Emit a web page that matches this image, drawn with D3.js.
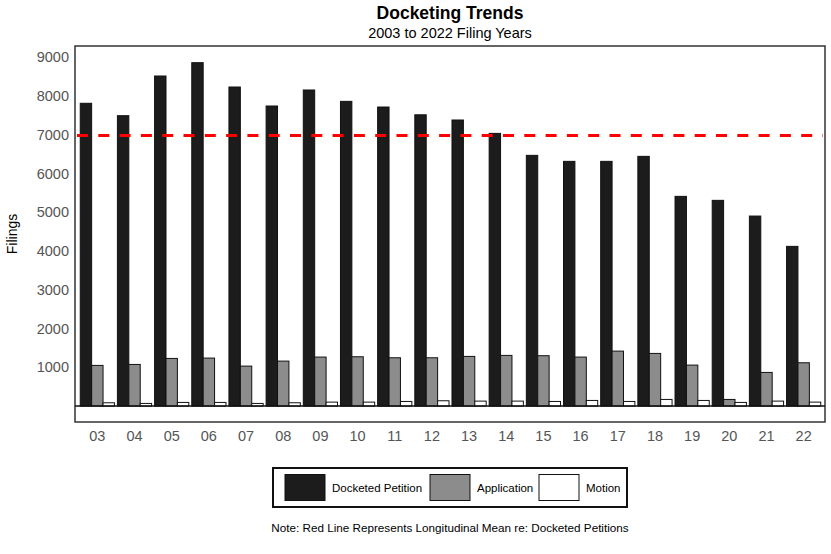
<!DOCTYPE html>
<html>
<head>
<meta charset="utf-8">
<script src="https://cdn.jsdelivr.net/npm/d3@7"></script>
<style>
  body { margin: 0; background: #fff; }
  svg { font-family: "Liberation Sans", Arial, sans-serif; }
</style>
</head>
<body>
<svg id="chart" width="831" height="554"></svg>
<script>
// filing years (2-digit labels)
const years = ["03","04","05","06","07","08","09","10","11","12",
               "13","14","15","16","17","18","19","20","21","22"];

const docketed = [7812, 7492, 8516, 8860, 8232, 7742, 8155, 7862, 7716, 7515,
                  7381, 7036, 6469, 6314, 6314, 6443, 5411, 5308, 4903, 4121];
const applications = [1050, 1075, 1230, 1239, 1032, 1161, 1265, 1273, 1247, 1247,
                      1282, 1308, 1300, 1265, 1419, 1359, 1058, 172, 869, 1118];
const motions = [86, 69, 95, 95, 69, 86, 103, 103, 120, 138,
                 129, 129, 120, 146, 120, 172, 146, 95, 129, 103];

const seriesNames = ["Docketed Petition", "Application", "Motion"];
const yTicks = [1000, 2000, 3000, 4000, 5000, 6000, 7000, 8000, 9000];

const colors = ["#1c1c1c", "#8c8c8c", "#ffffff"];

const svg = d3.select("#chart");
const plotLeft = 75, plotRight = 825, plotTop = 46, plotBottom = 422;

const x = d3.scaleBand()
    .domain(years)
    .range([plotLeft + 4.5, plotRight - 3.5])
    .paddingInner(0.08)
    .paddingOuter(0.02);

const xInner = d3.scaleBand()
    .domain(seriesNames)
    .range([0, x.bandwidth()]);

const y = d3.scaleLinear()
    .domain([-410, 9290])
    .range([plotBottom, plotTop]);

const rows = years.map((yr, i) => ({
    year: yr,
    values: [docketed[i], applications[i], motions[i]]
}));

// bars
const groups = svg.append("g")
  .selectAll("g")
  .data(rows)
  .join("g")
    .attr("transform", d => `translate(${x(d.year)},0)`);

groups.selectAll("rect")
  .data(d => d.values.map((v, k) => ({ name: seriesNames[k], value: v, k })))
  .join("rect")
    .attr("x", d => xInner(d.name))
    .attr("width", xInner.bandwidth())
    .attr("y", d => y(d.value))
    .attr("height", d => y(0) - y(d.value))
    .attr("fill", d => colors[d.k])
    .attr("stroke", "#111")
    .attr("stroke-width", 1);

// mean line for docketed petitions
const mean = d3.mean(docketed);
svg.append("line")
    .attr("x1", plotLeft + 2).attr("x2", plotRight - 2)
    .attr("y1", y(mean)).attr("y2", y(mean))
    .attr("stroke", "#ff0000")
    .attr("stroke-width", 3)
    .attr("stroke-dasharray", "11,10.3");

// frame + zero line
svg.append("rect")
    .attr("x", plotLeft).attr("y", plotTop)
    .attr("width", plotRight - plotLeft).attr("height", plotBottom - plotTop)
    .attr("fill", "none")
    .attr("stroke", "#333")
    .attr("stroke-width", 1.5);

svg.append("line")
    .attr("x1", plotLeft).attr("x2", plotRight)
    .attr("y1", y(0)).attr("y2", y(0))
    .attr("stroke", "#111")
    .attr("stroke-width", 1.5);

// axes
const yAxis = svg.append("g")
    .attr("transform", `translate(${plotLeft},0)`)
    .call(d3.axisLeft(y).tickValues(yTicks).tickFormat(d3.format("d"))
        .tickSize(0).tickPadding(6));
yAxis.select(".domain").remove();
yAxis.selectAll("text")
    .attr("font-size", 14.5)
    .attr("fill", "#555")
    .attr("font-family", "Liberation Sans, Arial, sans-serif");

const xAxis = svg.append("g")
    .attr("transform", `translate(0,${plotBottom})`)
    .call(d3.axisBottom(x).tickSize(0).tickPadding(9));
xAxis.select(".domain").remove();
xAxis.selectAll("text")
    .attr("font-size", 14.5)
    .attr("fill", "#555")
    .attr("font-family", "Liberation Sans, Arial, sans-serif");

// titles
svg.append("text")
    .attr("x", 450).attr("y", 19)
    .attr("text-anchor", "middle")
    .attr("font-size", 17.5)
    .attr("font-weight", "bold")
    .text("Docketing Trends");

svg.append("text")
    .attr("x", 450).attr("y", 38)
    .attr("text-anchor", "middle")
    .attr("font-size", 14.5)
    .text("2003 to 2022 Filing Years");

svg.append("text")
    .attr("transform", `translate(17,${(plotTop + plotBottom) / 2}) rotate(-90)`)
    .attr("text-anchor", "middle")
    .attr("font-size", 14)
    .text("Filings");

// legend
const legend = svg.append("g");
legend.append("rect")
    .attr("x", 273).attr("y", 468)
    .attr("width", 354).attr("height", 39)
    .attr("fill", "#fff")
    .attr("stroke", "#111")
    .attr("stroke-width", 2);

const legendX = [285, 430, 539];
seriesNames.forEach((name, k) => {
    legend.append("rect")
        .attr("x", legendX[k]).attr("y", 474.5)
        .attr("width", 40).attr("height", 26)
        .attr("fill", colors[k])
        .attr("stroke", "#111")
        .attr("stroke-width", 1);
    legend.append("text")
        .attr("x", legendX[k] + 47).attr("y", 491.5)
        .attr("font-size", 11.5)
        .text(name);
});

svg.append("text")
    .attr("x", 450).attr("y", 532)
    .attr("text-anchor", "middle")
    .attr("font-size", 11.7)
    .text("Note: Red Line Represents Longitudinal Mean re: Docketed Petitions");
</script>
</body>
</html>
